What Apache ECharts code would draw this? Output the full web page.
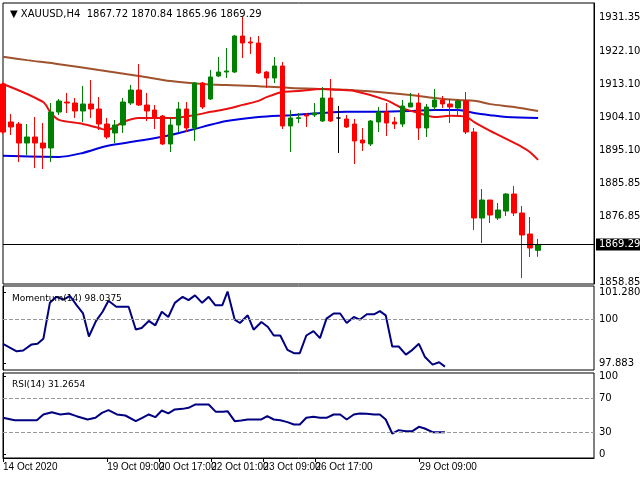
<!DOCTYPE html>
<html lang="en">
<head>
    <meta charset="UTF-8">
    <title>XAUUSD H4</title>
</head>
<body style="margin:0">
    <div id="img" style="height: 480px; width: 640px;"></div>
    <script src="https://cdn.jsdelivr.net/npm/echarts@6/dist/echarts.min.js"></script>
    <script type="text/javascript">
      // candles (H4 bars)
      var opens = [1913.09,1902.73,1902.18,1897.0,1898.64,1897.0,1895.64,1905.45,1908.18,1907.91,
        1905.73,1907.64,1906.27,1902.18,1899.73,1901.91,1907.91,1911.45,1907.36,1906.0,
        1904.36,1896.73,1901.91,1906.27,1901.09,1913.36,1909.0,1915.27,1916.36,1916.36,
        1926.18,1924.55,1924.27,1916.36,1914.73,1918.0,1901.64,1903.7,1904.64,1904.64,
        1903.0,1909.27,1903.82,1903.55,1902.18,1897.82,1896.73,1902.73,1905.45,1902.73,
        1902.18,1906.82,1907.91,1901.09,1906.82,1908.73,1907.64,1906.55,1908.45,1900.0,
        1876.55,1881.45,1876.55,1878.45,1883.09,1877.91,1872.18,1867.72];
      var closes = [1900.0,1901.36,1897.0,1898.64,1897.0,1895.64,1905.45,1908.45,1907.91,1905.73,
        1907.64,1906.27,1902.18,1898.64,1901.91,1908.18,1911.45,1907.36,1905.73,1904.09,
        1896.73,1901.91,1906.27,1901.09,1913.36,1906.82,1915.0,1916.36,1916.64,1926.18,
        1924.27,1924.27,1916.09,1914.73,1918.0,1901.64,1903.82,1903.9,1904.36,1905.18,
        1909.27,1903.0,1903.82,1901.36,1897.55,1897.0,1903.0,1905.45,1902.45,1902.18,
        1907.09,1907.91,1901.09,1906.82,1908.73,1907.64,1906.82,1908.45,1900.0,1876.55,
        1881.45,1877.36,1878.73,1883.09,1877.91,1871.91,1868.36,1869.29];
      var lows = [1899.5,1899.18,1891.82,1893.73,1890.18,1889.91,1891.82,1904.64,1905.18,1903.82,
        1902.73,1903.82,1900.55,1898.09,1897.0,1899.73,1907.36,1907.09,1903.0,1900.82,
        1896.45,1894.55,1900.0,1900.0,1897.55,1906.27,1908.73,1915.0,1914.73,1916.09,
        1920.18,1921.27,1915.82,1912.0,1913.36,1900.82,1894.55,1902.45,1901.36,1904.09,
        1902.73,1902.73,1894.27,1901.09,1891.27,1894.82,1896.18,1900.0,1898.91,1900.82,
        1901.36,1906.82,1897.82,1898.64,1906.0,1906.55,1902.45,1904.64,1899.45,1873.27,
        1869.73,1875.18,1876.0,1877.09,1877.09,1860.18,1865.91,1865.96];
      var highs = [1913.5,1904.91,1902.73,1902.18,1904.09,1902.45,1907.91,1909.0,1910.64,1909.27,
        1912.55,1914.18,1909.55,1903.82,1903.27,1909.27,1912.82,1918.55,1910.64,1907.36,
        1904.64,1903.82,1908.18,1908.18,1913.64,1913.64,1916.91,1920.46,1922.91,1926.45,
        1931.36,1925.91,1926.18,1916.64,1920.46,1919.09,1906.0,1905.18,1905.18,1907.91,
        1912.27,1914.45,1907.09,1904.64,1903.55,1901.09,1903.27,1906.82,1907.91,1904.09,
        1908.73,1910.64,1910.64,1907.64,1911.73,1909.82,1909.0,1909.0,1910.91,1901.09,
        1884.45,1881.45,1880.64,1883.36,1885.27,1879.82,1876.82,1870.84];
      var dojiDown = [8, 31, 38];
      var dojiFlat = [42];

      // moving averages, [bar, price]
      var maRed = [[0,1913.1],[5,1908.2],[6,1905.2],[7,1903.3],[10,1902.2],[12,1901.1],[13,1900.5],
        [14,1901.4],[15,1902.7],[17,1903.8],[21,1903.8],[24,1904.6],[26,1905.5],[28,1906.3],
        [30,1907.4],[32,1908.5],[33,1909.5],[35,1910.9],[37,1911.2],[40,1911.7],[42,1911.5],
        [44,1911.2],[48,1908.7],[50,1906.5],[52,1905.2],[54,1904.1],[56,1904.4],[58,1904.1],
        [59,1902.7],[61,1900.3],[62,1899.2],[65,1895.9],[66,1894.5],[67,1892.4]];
      var maBlue = [[0,1893.5],[7,1893.2],[10,1894.3],[13,1896.2],[17,1897.6],[21,1899.2],
        [25,1901.4],[28,1903.0],[32,1904.1],[36,1904.6],[40,1905.2],[43,1905.5],[47,1905.5],
        [51,1905.7],[54,1906.0],[57,1906.0],[59,1905.2],[61,1904.6],[63,1904.1],[67,1903.8]];
      var maBrown = [[0,1920.5],[3,1919.6],[7,1918.5],[12,1916.9],[17,1915.3],[21,1913.9],
        [25,1913.1],[28,1912.8],[32,1912.5],[36,1912.0],[40,1911.7],[43,1911.5],[47,1910.9],
        [51,1910.1],[54,1909.3],[57,1908.7],[59,1908.5],[61,1907.6],[64,1906.8],[67,1905.7]];

      var momX = [0,2.1,3.1,4.4,5.3,6.2,7.2,8.2,9.3,10.3,11.3,12.3,13.2,14.3,15.3,16.2,17.4,19.3,20.4,
        21.3,22.4,23.4,24.4,25.4,26.4,27.6,28.5,29.5,30.6,31.6,32.6,33.7,34.5,35.6,36.4,37.6,38.5,
        39.7,40.7,41.6,42.6,43.7,44.7,45.6,46.6,47.7,48.7,49.7,50.8,51.8,52.8,53.9,54.8,55.9,57.0,
        57.9,58.8,59.8,60.8,61.9,62.9,63.9,64.8,66.0,67.0,67.9];
      var momY = [98.82,98.46,98.50,98.79,98.82,99.06,100.79,101.08,100.95,101.12,100.68,100.28,
        99.17,99.92,100.36,100.89,100.60,100.60,99.51,99.58,99.92,99.71,100.36,100.11,100.79,
        101.08,100.92,101.15,100.79,101.08,100.68,100.68,101.33,99.98,99.82,100.19,99.50,99.87,
        99.63,99.22,99.22,98.53,98.37,98.37,99.22,99.43,99.09,100.03,100.28,100.28,99.82,100.11,
        99.98,100.24,100.24,100.39,100.19,98.69,98.69,98.30,98.53,98.82,98.20,97.82,97.93,97.72];

      var rsiX = [0,1.8,5.2,6.2,7.5,8.8,10.1,11.3,13.0,14.2,15.2,16.2,17.5,18.8,20.4,21.4,22.4,23.4,
        24.4,25.4,26.4,27.6,28.5,29.5,30.6,31.6,32.7,33.8,34.5,35.6,36.6,37.6,38.7,39.7,40.6,41.6,
        42.6,43.7,44.7,45.6,46.6,47.7,48.7,49.7,50.8,51.8,52.8,53.9,54.8,55.9,57.0,57.9,58.8,59.8,
        60.8,61.9,62.9,63.9,64.8,66.0,67.0,67.9];
      var rsiY = [47.3,44.5,44.5,51.2,53.9,51.2,52.4,49.2,45.3,47.3,53.1,56.3,51.2,50.0,43.3,47.3,
        51.2,48.0,55.9,52.4,57.1,57.8,59.0,62.9,62.9,62.9,54.3,54.3,55.1,43.3,44.1,45.3,45.3,45.3,
        49.2,45.3,44.5,42.2,39.4,39.4,47.3,48.4,47.3,47.3,51.2,51.2,45.3,51.2,52.4,52.0,51.2,51.2,
        45.3,28.8,32.8,31.6,31.6,36.7,34.7,30.4,30.4,30.4];

      var priceTicks = [1858.85,1876.85,1885.85,1895.10,1904.10,1913.10,1922.10,1931.35];
      var dateLabels = ['14 Oct 2020','16 Oct 01:00','19 Oct 09:00','20 Oct 17:00','22 Oct 01:00',
        '23 Oct 09:00','26 Oct 17:00','28 Oct 01:00','29 Oct 09:00'];
      var lastPrice = 1869.29;

      var font = 'DejaVu Sans';
      var cats = [];
      for (var i = 0; i < 75; i++) cats.push(i);
      var candles = [];
      for (var i = 0; i < opens.length; i++) {
        var item = {value: [opens[i], closes[i], lows[i], highs[i]]};
        if (dojiDown.indexOf(i) >= 0) item.itemStyle = {color: '#ff0000', borderColor: '#ff0000'};
        if (dojiFlat.indexOf(i) >= 0) item.itemStyle = {color: '#000', borderColor: '#000', borderColor0: '#000'};
        candles.push(item);
      }
      var pair = function (xs, ys) {
        var r = [];
        for (var i = 0; i < xs.length; i++) r.push([xs[i], ys[i]]);
        return r;
      };
      var dateTicks = dateLabels.map(function (d, k) { return k * 8; });
      var dash = {color: '#999', type: 'dashed', width: 1};
      var axisTxt = {fontFamily: font, fontSize: 10, color: '#000'};

      var myChart = echarts.init(document.getElementById('img'));
      var option = {
        animation: false,
        backgroundColor: '#fff',
        title: [
          {text: '\u25BC XAUUSD,H4  1867.72 1870.84 1865.96 1869.29', left: 5, top: 4,
            textStyle: {fontFamily: font, fontSize: 10, fontWeight: 'normal', color: '#000'}},
          {text: 'Momentum(14) 98.0375', left: 7, top: 289,
            textStyle: {fontFamily: font, fontSize: 9, fontWeight: 'normal', color: '#000'}},
          {text: 'RSI(14) 31.2654', left: 7, top: 375,
            textStyle: {fontFamily: font, fontSize: 9, fontWeight: 'normal', color: '#000'}}
        ],
        grid: [
          {left: 3, top: 3, width: 591, height: 281, show: true, borderColor: '#000', borderWidth: 1,
            outerBoundsMode: 'none', containLabel: false},
          {left: 3, top: 286, width: 591, height: 84, show: true, borderColor: '#000', borderWidth: 1,
            outerBoundsMode: 'none', containLabel: false},
          {left: 3, top: 373, width: 591, height: 85, show: true, borderColor: '#000', borderWidth: 1,
            outerBoundsMode: 'none', containLabel: false}
        ],
        xAxis: [
          {type: 'category', gridIndex: 0, data: cats, boundaryGap: false, show: false},
          {type: 'value', gridIndex: 1, min: 0, max: 90.8, show: false},
          {type: 'value', gridIndex: 2, min: 0, max: 90.8,
            axisLine: {lineStyle: {color: '#000'}}, splitLine: {show: false},
            axisTick: {customValues: dateTicks, length: 4, lineStyle: {color: '#000'}},
            axisLabel: {customValues: dateTicks, align: 'left', margin: 4, hideOverlap: false,
              showMinLabel: true, showMaxLabel: true,
              fontFamily: 'Liberation Sans', fontSize: 10, color: '#000',
              formatter: function (v) { return dateLabels[Math.round(v / 8)]; }}}
        ],
        yAxis: [
          {type: 'value', gridIndex: 0, position: 'right', min: 1858.55, max: 1935.18,
            splitLine: {show: false}, axisLine: {show: true, lineStyle: {color: '#000'}},
            axisTick: {customValues: priceTicks, length: 3, lineStyle: {color: '#000'}},
            axisLabel: Object.assign({customValues: priceTicks, margin: 5,
              formatter: function (v) { return v.toFixed(2); }}, axisTxt)},
          {type: 'value', gridIndex: 1, position: 'right', min: 97.56, max: 101.6,
            splitLine: {show: false}, axisLine: {show: true, lineStyle: {color: '#000'}},
            axisTick: {customValues: [97.883, 100, 101.2802], length: 3, lineStyle: {color: '#000'}},
            axisLabel: Object.assign({customValues: [97.883, 100, 101.2802], margin: 5,
              formatter: function (v) { return String(v); }}, axisTxt)},
          {type: 'value', gridIndex: 2, position: 'right', min: 0, max: 100,
            splitLine: {show: false}, axisLine: {show: true, lineStyle: {color: '#000'}},
            axisTick: {customValues: [4, 30, 70, 96], length: 3, lineStyle: {color: '#000'}},
            axisLabel: Object.assign({customValues: [4, 30, 70, 96], margin: 5,
              formatter: function (v) { return v === 4 ? '0' : v === 96 ? '100' : String(v); }}, axisTxt)}
        ],
        series: [
          {name: 'MA brown', type: 'line', xAxisIndex: 0, yAxisIndex: 0, data: maBrown,
            symbol: 'none', smooth: 0.3, lineStyle: {color: '#a0522d', width: 2}, z: 1},
          {name: 'MA blue', type: 'line', xAxisIndex: 0, yAxisIndex: 0, data: maBlue,
            symbol: 'none', smooth: 0.3, lineStyle: {color: '#0000dd', width: 2}, z: 1},
          {name: 'MA red', type: 'line', xAxisIndex: 0, yAxisIndex: 0, data: maRed,
            symbol: 'none', smooth: 0.3, lineStyle: {color: '#e81010', width: 2}, z: 1},
          {name: 'XAUUSD', type: 'candlestick', xAxisIndex: 0, yAxisIndex: 0, data: candles,
            barWidth: 5, z: 3,
            itemStyle: {color: '#008000', color0: '#ff0000', borderColor: '#008000', borderColor0: '#ff0000', borderWidth: 1},
            markLine: {silent: true, symbol: 'none', animation: false,
              lineStyle: {color: '#000', type: 'solid', width: 1},
              label: {position: 'end', formatter: lastPrice.toFixed(2), backgroundColor: '#000',
                color: '#fff', fontFamily: font, fontSize: 10, padding: [1, 3], distance: 2},
              data: [{yAxis: lastPrice}]}},
          {name: 'Momentum', type: 'line', xAxisIndex: 1, yAxisIndex: 1, data: pair(momX, momY),
            symbol: 'none', lineStyle: {color: '#000080', width: 2},
            markLine: {silent: true, symbol: 'none', label: {show: false}, lineStyle: dash,
              data: [{yAxis: 100}]}},
          {name: 'RSI', type: 'line', xAxisIndex: 2, yAxisIndex: 2, data: pair(rsiX, rsiY),
            symbol: 'none', lineStyle: {color: '#000080', width: 2},
            markLine: {silent: true, symbol: 'none', label: {show: false}, lineStyle: dash,
              data: [{yAxis: 70}, {yAxis: 30}]}}
        ]
      };
      myChart.setOption(option);
    </script>
</body>
</html>
